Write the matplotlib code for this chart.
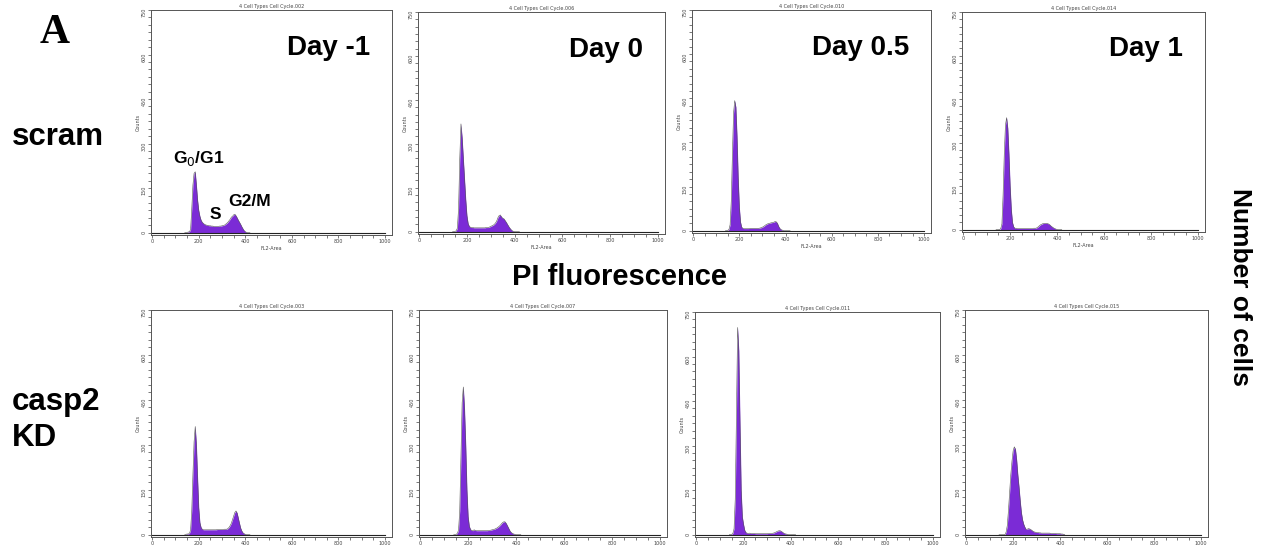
import matplotlib
matplotlib.use("Agg")
import matplotlib.pyplot as plt
import numpy as np
from matplotlib.ticker import MultipleLocator

# FL2-Area channels (5-unit bins) and counts per sample
channels = np.arange(140, 425, 5)

scram_dm1 = [0, 0, 1, 2, 3, 10, 80, 160, 200, 205,
             160, 110, 75, 55, 42, 35, 31, 28, 26, 25,
             24, 23, 23, 22, 22, 21, 21, 21, 21, 21,
             22, 22, 23, 24, 25, 28, 31, 35, 40, 45,
             52, 55, 60, 62, 57, 50, 42, 35, 28, 20,
             13, 7, 3, 1, 0, 0, 0]
scram_d0 = [0, 0, 1, 3, 12, 80, 250, 368, 320, 250,
            180, 110, 55, 28, 18, 15, 14, 14, 13, 13,
            13, 13, 13, 13, 13, 13, 13, 13, 14, 14,
            14, 16, 18, 20, 22, 25, 30, 37, 48, 55,
            57, 50, 46, 44, 38, 32, 25, 18, 12, 7,
            3, 1, 0, 0, 0, 0, 0]
scram_d05 = [0, 0, 1, 4, 20, 100, 260, 400, 442, 420,
             320, 180, 80, 30, 12, 8, 7, 7, 7, 7,
             7, 8, 8, 8, 8, 8, 8, 8, 8, 8,
             9, 10, 12, 14, 17, 20, 22, 24, 25, 26,
             27, 28, 29, 31, 30, 25, 15, 8, 4, 2,
             1, 0, 0, 0, 0, 0, 0]
scram_d1 = [0, 0, 0, 0, 4, 20, 120, 260, 360, 386,
            350, 260, 150, 70, 25, 10, 5, 5, 4, 4,
            4, 4, 4, 4, 4, 4, 4, 4, 4, 4,
            4, 4, 5, 5, 5, 7, 10, 14, 17, 19,
            21, 22, 22, 22, 21, 19, 16, 12, 9, 6,
            4, 2, 1, 0, 0, 0, 0]
kd_dm1 = [0, 1, 2, 2, 4, 15, 80, 200, 310, 361,
          300, 190, 90, 40, 24, 18, 16, 16, 16, 16,
          16, 16, 16, 16, 16, 16, 16, 16, 17, 17,
          17, 17, 17, 17, 18, 18, 18, 20, 24, 30,
          38, 50, 62, 74, 79, 72, 55, 38, 22, 12,
          6, 3, 1, 0, 0, 0, 0]
kd_d0 = [0, 0, 1, 4, 15, 80, 260, 440, 493, 420,
         300, 150, 60, 28, 17, 14, 13, 16, 14, 13,
         13, 13, 13, 13, 13, 13, 13, 13, 13, 14,
         14, 15, 16, 17, 18, 20, 22, 25, 28, 32,
         37, 41, 43, 42, 36, 28, 20, 12, 7, 4,
         2, 1, 0, 0, 0, 0, 0]
kd_d05 = [0, 0, 1, 4, 20, 120, 400, 698, 620, 380,
          150, 60, 35, 15, 7, 5, 4, 5, 4, 4,
          4, 4, 3, 3, 3, 3, 3, 3, 3, 3,
          3, 3, 3, 4, 4, 4, 4, 5, 6, 8,
          10, 12, 13, 13, 11, 8, 5, 3, 2, 1,
          0, 0, 0, 0, 0, 0, 0]
kd_d1 = [0, 0, 0, 0, 0, 0, 8, 30, 80, 140,
         200, 245, 280, 293, 285, 250, 200, 160, 115, 75,
         50, 35, 25, 18, 18, 20, 19, 17, 14, 11,
         9, 8, 7, 7, 6, 6, 5, 5, 5, 5,
         5, 5, 5, 5, 4, 4, 4, 4, 4, 3,
         3, 3, 3, 2, 2, 1, 0]

days = ["Day -1", "Day 0", "Day 0.5", "Day 1"]
rows = ["scram", "casp2\nKD"]
file_ids = [["002", "006", "010", "014"], ["003", "007", "011", "015"]]
counts = [[scram_dm1, scram_d0, scram_d05, scram_d1],
          [kd_dm1, kd_d0, kd_d05, kd_d1]]

W, H = 1262, 548
# panel boxes in pixels: left, right, top, bottom
boxes = [[(151, 392, 10, 235), (418, 665, 12, 234), (692, 931, 10, 233), (962, 1205, 12, 232)],
         [(151, 392, 310, 537), (419, 667, 310, 537), (695, 940, 312, 537), (965, 1208, 310, 537)]]

fill_col = "#7b2bd6"

fig = plt.figure(figsize=(W / 100, H / 100), dpi=100)
fig.patch.set_facecolor("white")

for r in range(2):
    for c in range(4):
        l, rr, t, b = boxes[r][c]
        ax = fig.add_axes([l / W, 1 - b / H, (rr - l) / W, (b - t) / H])
        y = np.array(counts[r][c])
        ax.fill_between(channels, 0, y, color=fill_col, lw=0)
        ax.plot(channels, y, color="#555555", lw=0.4)
        ax.plot([0, 1000], [0, 0], color="#222222", lw=0.8)
        ax.set_xlim(-5, 1030)
        ax.set_ylim(-8, 750)
        ax.set_xticks([0, 200, 400, 600, 800, 1000])
        ax.set_yticks([0, 150, 300, 450, 600, 750])
        ax.xaxis.set_minor_locator(MultipleLocator(50))
        ax.yaxis.set_minor_locator(MultipleLocator(25))
        ax.tick_params(which="both", direction="out", length=2, width=0.5,
                       labelsize=3.5, pad=1, colors="#444444")
        ax.tick_params(axis="y", labelrotation=90)
        for s in ax.spines.values():
            s.set_linewidth(0.7)
            s.set_color("#555555")
        ax.set_title("4 Cell Types Cell Cycle." + file_ids[r][c], fontsize=3.5,
                     pad=1.5, color="#444444")
        ax.set_ylabel("Counts", fontsize=3.5, labelpad=1, color="#444444")
        if r == 0:
            ax.set_xlabel("FL2-Area", fontsize=3.5, labelpad=1, color="#444444")
            ax.text(0.91, 0.83, days[c], transform=ax.transAxes, ha="right",
                    va="center", fontsize=20, fontweight="bold",
                    family="Liberation Sans")

# phase labels on the first histogram
ax0 = fig.axes[0]
ax0.text(90, 250, "G$_0$/G1", ha="left", va="center", fontsize=12.5,
         fontweight="bold", family="Liberation Sans")
ax0.text(272, 60, "S", ha="center", va="center", fontsize=12.5,
         fontweight="bold", family="Liberation Sans")
ax0.text(328, 105, "G2/M", ha="left", va="center", fontsize=12.5,
         fontweight="bold", family="Liberation Sans")

fig.text(55 / W, 1 - 33 / H, "A", fontsize=30, fontweight="bold",
         family="Liberation Serif", ha="center", va="center")
fig.text(12 / W, 1 - 137 / H, rows[0], fontsize=22.5, fontweight="bold",
         family="Liberation Sans", ha="left", va="center")
fig.text(12 / W, 1 - 420 / H, rows[1], fontsize=22.5, fontweight="bold",
         family="Liberation Sans", ha="left", va="center", linespacing=1.3)
fig.text(620 / W, 1 - 277 / H, "PI fluorescence", fontsize=21,
         fontweight="bold", family="Liberation Sans", ha="center", va="center")
fig.text(1240 / W, 1 - 287 / H, "Number of cells", fontsize=19,
         fontweight="bold", family="Liberation Sans", ha="center",
         va="center", rotation=-90)

fig.savefig("out.png", dpi=100, facecolor="white")
